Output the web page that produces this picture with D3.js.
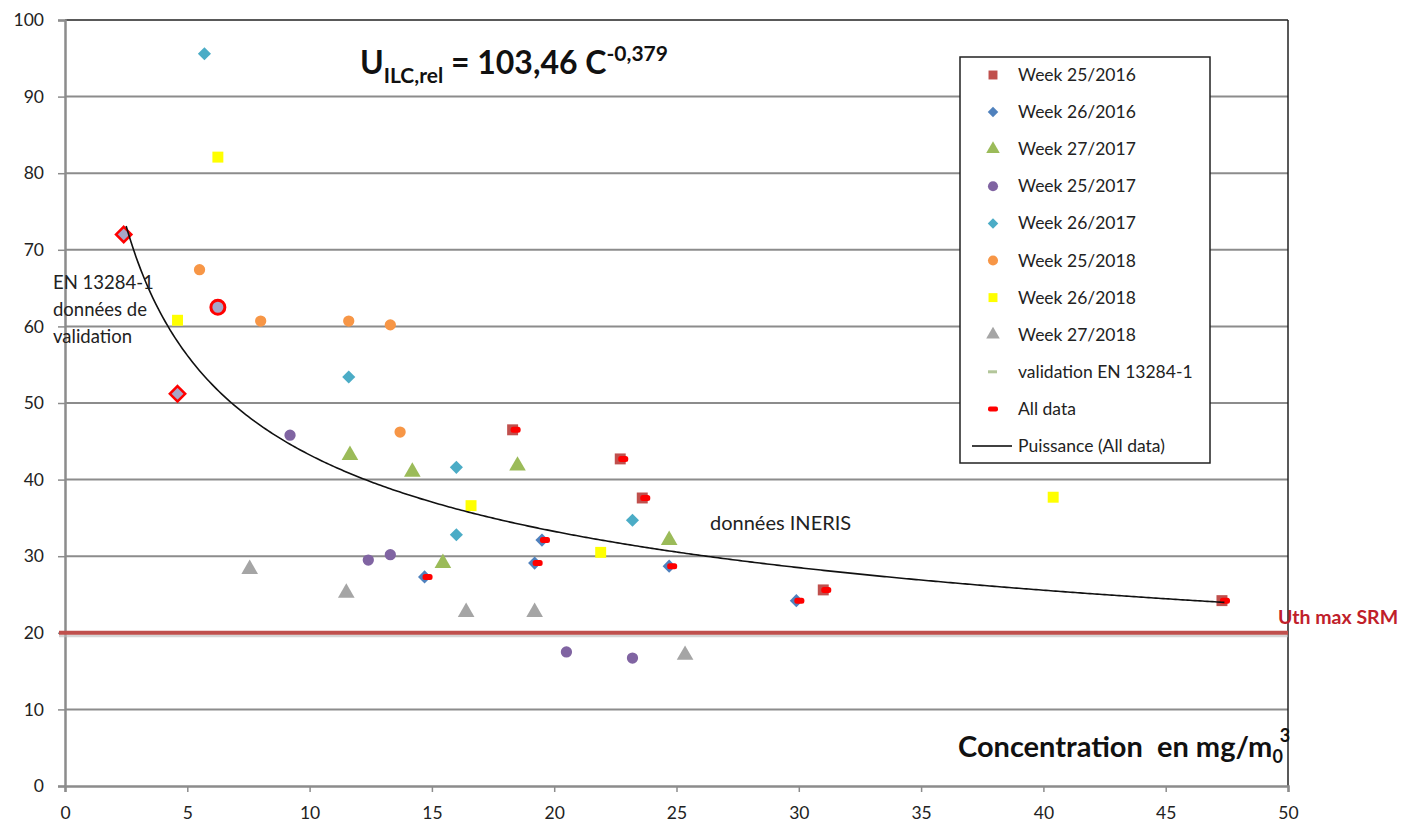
<!DOCTYPE html>
<html>
<head>
<meta charset="utf-8">
<script src="https://cdn.jsdelivr.net/npm/d3@7"></script>
<style>
  body { margin: 0; background: #fff; }
  text { font-family: Lato, "Open Sans", sans-serif; }
</style>
</head>
<body>
<div id="chart"></div>
<script>
// series values: [concentration, U rel %]
const week25_2016 = [[18.3, 46.5], [22.7, 42.7], [23.6, 37.6], [31.0, 25.6], [47.3, 24.2]];
const week26_2016 = [[14.7, 27.3], [19.5, 32.1], [19.2, 29.1], [24.7, 28.7], [29.9, 24.2]];
const week27_2017 = [[11.65, 43.2], [14.2, 41.0], [18.5, 41.8], [15.45, 29.1], [24.7, 32.1]];
const week25_2017 = [[9.2, 45.8], [12.4, 29.5], [13.3, 30.2], [20.5, 17.5], [23.2, 16.7]];
const week26_2017 = [[5.7, 95.6], [11.6, 53.4], [16.0, 41.6], [16.0, 32.8], [23.2, 34.7]];
const week25_2018 = [[5.5, 67.4], [8.0, 60.7], [11.6, 60.7], [13.3, 60.2], [13.7, 46.2]];
const week26_2018 = [[6.25, 82.1], [4.6, 60.8], [16.6, 36.6], [21.9, 30.5], [40.4, 37.7]];
const week27_2018 = [[7.55, 28.3], [11.5, 25.2], [16.4, 22.7], [19.2, 22.7], [25.35, 17.1]];
const validationDiamonds = [[2.4, 72.0], [4.6, 51.2]];
const validationCircles = [[6.25, 62.5]];
const allData = week25_2016.concat(week26_2016);

// power trendline "Puissance (All data)" from the displayed equation
const powerCoef = [103.46, -0.379];
const powerRange = [2.5, 47.4];
const uthMax = 20;

const xTicks = [0, 5, 10, 15, 20, 25, 30, 35, 40, 45, 50];
const yTicks = [0, 10, 20, 30, 40, 50, 60, 70, 80, 90, 100];

const legendItems = [
  { name: "Week 25/2016", shape: "square", color: "#c0504d" },
  { name: "Week 26/2016", shape: "diamond", color: "#4f81bd" },
  { name: "Week 27/2017", shape: "triangle", color: "#9bbb59" },
  { name: "Week 25/2017", shape: "circle", color: "#8064a2" },
  { name: "Week 26/2017", shape: "diamond", color: "#4bacc6" },
  { name: "Week 25/2018", shape: "circle", color: "#f79646" },
  { name: "Week 26/2018", shape: "square", color: "#ffff00" },
  { name: "Week 27/2018", shape: "triangle", color: "#a5a5a5" },
  { name: "validation EN 13284-1", shape: "dash", color: "#b3c69a" },
  { name: "All data", shape: "reddash", color: "#ff0000" },
  { name: "Puissance (All data)", shape: "line", color: "#000" }
];

const width = 1403, height = 822;
const plotLeft = 65, plotRight = 1288, plotTop = 20, plotBottom = 786;

const svg = d3.select("#chart").append("svg")
  .attr("width", width)
  .attr("height", height);

const x = d3.scaleLinear().domain([0, 50]).range([plotLeft, plotRight]);
const y = d3.scaleLinear().domain([0, 100]).range([plotBottom, plotTop]);

// gridlines
svg.append("g")
  .selectAll("line")
  .data(yTicks.slice(1, -1))
  .enter().append("line")
  .attr("x1", plotLeft).attr("x2", plotRight)
  .attr("y1", d => y(d)).attr("y2", d => y(d))
  .style("stroke", "#8c8c8c")
  .style("stroke-width", 2);

// frame top / right
svg.append("line").attr("x1", plotLeft).attr("x2", plotRight).attr("y1", plotTop).attr("y2", plotTop)
  .style("stroke", "#222").style("stroke-width", 1.5);
svg.append("line").attr("x1", plotRight).attr("x2", plotRight).attr("y1", plotTop).attr("y2", plotBottom)
  .style("stroke", "#222").style("stroke-width", 1.5);

// axes
const xAxis = svg.append("g")
  .attr("transform", "translate(0," + plotBottom + ")")
  .call(d3.axisBottom(x).tickValues(xTicks).tickSize(6).tickPadding(15));
const yAxis = svg.append("g")
  .attr("transform", "translate(" + plotLeft + ",0)")
  .call(d3.axisLeft(y).tickValues(yTicks).tickSize(7).tickPadding(14));
[xAxis, yAxis].forEach(function(a) {
  a.select(".domain").style("stroke", "#8c8c8c").style("stroke-width", 2.5);
  a.selectAll(".tick line").style("stroke", "#8c8c8c").style("stroke-width", 1.5);
  a.selectAll(".tick text")
    .style("font-family", "Lato, 'Open Sans', sans-serif")
    .style("font-size", "17.5px")
    .style("fill", "#222");
});

// Uth max SRM line with a soft shadow
svg.append("line")
  .attr("x1", plotLeft - 6).attr("x2", plotRight)
  .attr("y1", y(uthMax) + 3).attr("y2", y(uthMax) + 3)
  .style("stroke", "#bbb").style("stroke-width", 3).style("opacity", 0.6);
svg.append("line")
  .attr("x1", plotLeft - 6).attr("x2", plotRight)
  .attr("y1", y(uthMax)).attr("y2", y(uthMax))
  .style("stroke", "#c0504d").style("stroke-width", 4);
svg.append("text")
  .attr("x", 1278).attr("y", 624)
  .style("font-size", "19.5px").style("font-weight", "bold")
  .style("fill", "#c0202a")
  .text("Uth max SRM");

// marker helpers
function symbolPath(shape, size) {
  const types = { square: d3.symbolSquare, diamond: d3.symbolDiamond2, triangle: d3.symbolTriangle, circle: d3.symbolCircle };
  return d3.symbol().type(types[shape]).size(size)();
}

function drawSeries(data, shape, color, size) {
  svg.append("g")
    .selectAll("path")
    .data(data)
    .enter().append("path")
    .attr("d", symbolPath(shape, size))
    .attr("transform", d => "translate(" + x(d[0]) + "," + y(d[1]) + ")")
    .style("fill", color);
}

drawSeries(week26_2018, "square", "#ffff00", 120);
drawSeries(week25_2018, "circle", "#f79646", 100);
drawSeries(week26_2017, "diamond", "#4bacc6", 110);
drawSeries(week25_2017, "circle", "#8064a2", 100);
drawSeries(week27_2017, "triangle", "#9bbb59", 120);
drawSeries(week27_2018, "triangle", "#a5a5a5", 120);
drawSeries(week25_2016, "square", "#c0504d", 120);
drawSeries(week26_2016, "diamond", "#4f81bd", 110);

// validation EN 13284-1 points, highlighted in red
svg.append("g").selectAll("path")
  .data(validationDiamonds)
  .enter().append("path")
  .attr("d", symbolPath("diamond", 150))
  .attr("transform", d => "translate(" + x(d[0]) + "," + y(d[1]) + ")")
  .style("fill", "#a6a6c8").style("stroke", "#ff0000").style("stroke-width", 2.5);
svg.append("g").selectAll("circle")
  .data(validationCircles)
  .enter().append("circle")
  .attr("cx", d => x(d[0])).attr("cy", d => y(d[1])).attr("r", 7)
  .style("fill", "#a6a6c8").style("stroke", "#ff0000").style("stroke-width", 3);

// All data markers (red dashes)
svg.append("g").selectAll("rect")
  .data(allData)
  .enter().append("rect")
  .attr("x", d => x(d[0]) - 2).attr("y", d => y(d[1]) - 3)
  .attr("width", 10).attr("height", 6).attr("rx", 2.5)
  .style("fill", "#ff0000");

// power trendline
const curveX = d3.range(powerRange[0], powerRange[1] + 0.01, 0.1);
const curve = curveX.map(c => [c, powerCoef[0] * Math.pow(c, powerCoef[1])]);
svg.append("path")
  .datum(curve)
  .attr("d", d3.line().x(d => x(d[0])).y(d => y(d[1])))
  .style("fill", "none").style("stroke", "#111").style("stroke-width", 1.6);

// annotations
const eq = svg.append("text").attr("x", 360).attr("y", 74)
  .style("font-weight", "bold").style("font-size", "32px").style("fill", "#111");
eq.append("tspan").text("U");
eq.append("tspan").attr("dy", 9).style("font-size", "21px").text("ILC,rel");
eq.append("tspan").attr("dy", -9).text(" = 103,46 C");
eq.append("tspan").attr("dy", -13).style("font-size", "21px").text("-0,379");

const xLabel = svg.append("text").attr("x", 958).attr("y", 757)
  .style("font-weight", "bold").style("font-size", "29px").style("fill", "#111");
xLabel.append("tspan").text("Concentration\u00a0 en mg/m");
xLabel.append("tspan").attr("dy", 6).style("font-size", "18px").text("0");
xLabel.append("tspan").attr("dy", -21).attr("dx", -3).style("font-size", "18px").text("3");

const enText = svg.append("text").style("font-size", "18.5px").style("fill", "#222");
["EN 13284-1", "données de", "validation"].forEach(function(t, i) {
  enText.append("tspan").attr("x", 53).attr("y", 289 + i * 27).text(t);
});
svg.append("text").attr("x", 710).attr("y", 530)
  .style("font-size", "20px").style("fill", "#222")
  .text("données INERIS");

// legend
const lg = svg.append("g").attr("transform", "translate(960,57)");
lg.append("rect").attr("width", 250).attr("height", 406)
  .style("fill", "#fff").style("stroke", "#222").style("stroke-width", 1.5);
const item = lg.selectAll(".item")
  .data(legendItems)
  .enter().append("g")
  .attr("class", "item")
  .attr("transform", (d, i) => "translate(0," + (18 + i * 37.1) + ")");
item.each(function(d) {
  const g = d3.select(this);
  if (d.shape === "dash") {
    g.append("rect").attr("x", 28).attr("y", -1.5).attr("width", 9).attr("height", 3).style("fill", d.color);
  } else if (d.shape === "reddash") {
    g.append("rect").attr("x", 28).attr("y", -2.5).attr("width", 10).attr("height", 5).attr("rx", 2).style("fill", d.color);
  } else if (d.shape === "line") {
    g.append("line").attr("x1", 12).attr("x2", 52).attr("y1", 0).attr("y2", 0)
      .style("stroke", d.color).style("stroke-width", 1.6);
  } else {
    g.append("path").attr("d", symbolPath(d.shape, d.shape === "diamond" ? 70 : 80))
      .attr("transform", "translate(33,0)").style("fill", d.color);
  }
  g.append("text").attr("x", 58).attr("y", 6)
    .style("font-size", "17.5px").style("fill", "#222")
    .text(d.name);
});
</script>
</body>
</html>
